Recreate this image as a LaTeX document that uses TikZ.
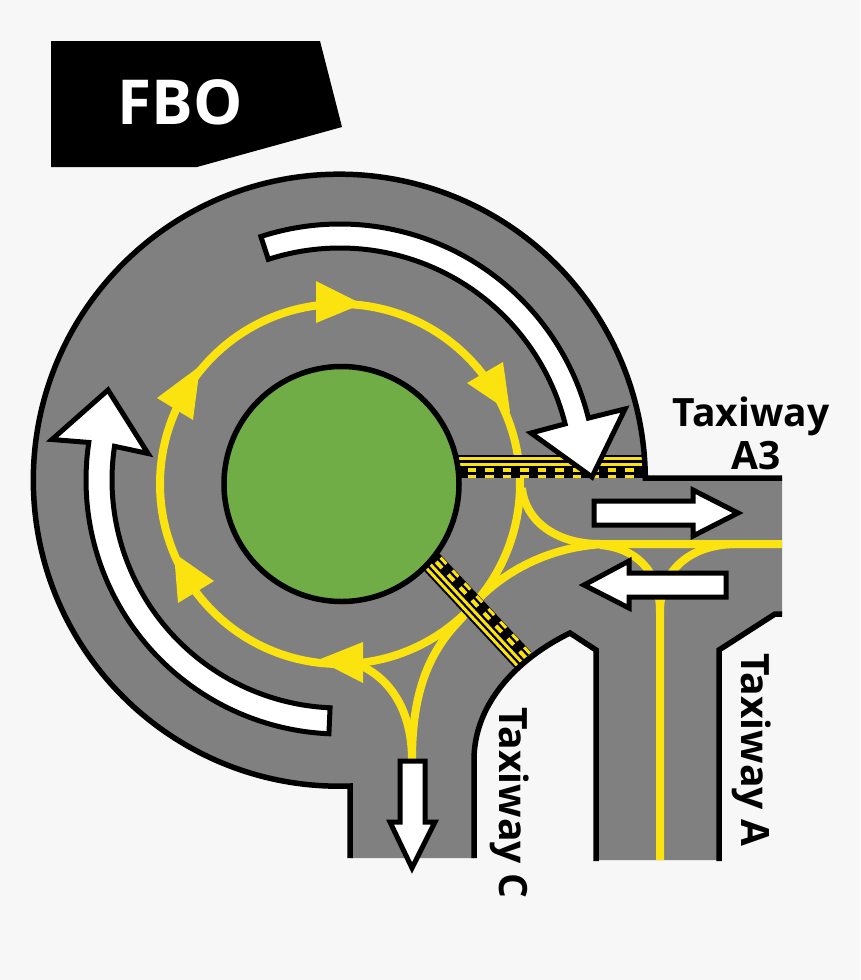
\documentclass[tikz,border=0pt]{standalone}
\usepackage{fontspec}
\setmainfont{Open Sans}
\usepackage{tikz}
\definecolor{sheet}{HTML}{F7F7F7}
\definecolor{pavement}{HTML}{808080}
\definecolor{grass}{HTML}{70AD47}
\definecolor{paint}{HTML}{FBE30F}
\tikzset{
	edgeline/.style={draw=black, line width=5.5pt, line join=miter},
	taxiline/.style={draw=paint, line width=8pt},
	painthead/.style={fill=paint},
	flowarrow/.style={draw=black, fill=white, line width=5pt, line join=miter, miter limit=10},
	twylabel/.style={font=\fontsize{39}{43}\selectfont\bfseries, align=center, inner sep=0pt},
}
% band across the pavement, local x runs along it
\newcommand{\holdbar}[1]{
	\fill[black] (0,-11.5) rectangle (#1,11.5);
	\draw[paint, line width=3pt] (0,-8) -- (#1,-8);
	\draw[paint, line width=3pt] (0,-2.5) -- (#1,-2.5);
	\draw[paint, line width=4pt, dash pattern=on 8.5pt off 9pt] (0,3.5) -- (#1,3.5);
	\draw[paint, line width=3pt, dash pattern=on 8.5pt off 9pt] (0,9.5) -- (#1,9.5);
}
\begin{document}
\begin{tikzpicture}[x=1pt, y=-1pt]
	\fill[sheet] (0,0) rectangle (860,980);
	\useasboundingbox (0,0) rectangle (860,980);

	% core parameters
	\def\cx{340}
	\def\cy{484}
	\def\rpad{306}
	\def\rring{180}
	\def\flowy{480}

	% pavement
	\fill[pavement] (350,858) -- (350,786) arc[start angle=88, end angle=359.6, radius=\rpad]
		-- (782,478) -- (782,614) -- (775,614) -- (719,650) -- (719,860) -- (596,860)
		-- (596,650) -- (570,633) .. controls (515,660) and (474,705) .. (474,760) -- (474,858) -- cycle;

	% yellow centre lines
	\coordinate (ringE) at (522,488);
	\coordinate (ringSE) at (462,618);
	\coordinate (ringS) at (345,660);
	\coordinate (exitC) at (412,760);
	\coordinate (meetA) at (660,612);
	\coordinate (endA3) at (782,544);
	\coordinate (endA) at (660,860);
	\draw[taxiline] (\cx,\cy) circle[radius=\rring];
	\draw[taxiline] (ringE) .. controls (525,520) and (555,544) .. (600,544) -- (endA3);
	\draw[taxiline] (ringSE) .. controls (490,580) and (540,547) .. (605,544);
	\draw[taxiline] (600,545) .. controls (635,548) and (660,570) .. (meetA) -- (endA);
	\draw[taxiline] (735,544) .. controls (690,545) and (660,570) .. (meetA);
	\draw[taxiline] (ringSE) .. controls (430,650) and (412,690) .. (exitC);
	\draw[taxiline] (ringS) .. controls (385,670) and (412,705) .. (exitC);

	% yellow arrow heads on the ring
	\fill[painthead] (316,281) -- (362,304) -- (316,323) -- cycle;
	\fill[painthead] (467,383) -- (503,362) -- (510,412) -- cycle;
	\fill[painthead] (157,398) -- (200,366) -- (193,420) -- cycle;
	\fill[painthead] (174,553) -- (214,581) -- (178,603) -- cycle;
	\fill[painthead] (318,660) -- (363,642) -- (363,683) -- cycle;

	% hold bars
	\begin{scope}[shift={(450,466.5)}]
		\holdbar{193}
	\end{scope}
	\begin{scope}[shift={(523,660)}, rotate=133]
		\holdbar{140}
	\end{scope}

	% middle island
	\node (hub) [circle, draw=black, fill=grass, line width=5.5pt, minimum size=235pt, inner sep=0pt] at (341.5,484) {};

	% pavement edges
	\draw[edgeline] (350,858) -- (350,786) arc[start angle=88, end angle=359.6, radius=\rpad] -- (782,478);
	\draw[edgeline] (782,614) -- (775,614) -- (719,650) -- (719,861);
	\draw[edgeline] (596,861) -- (596,650) -- (570,633) .. controls (515,660) and (474,705) .. (474,760) -- (474,858);

	% white flow arrows
	\draw[flowarrow] ([shift={(\cx,\flowy)}]252:256) arc[start angle=252, end angle=346, radius=256]
		-- (625,409) -- (592,477) -- (531,433) -- ([shift={(\cx,\flowy)}]346:232)
		arc[start angle=346, end angle=252, radius=232] -- cycle;
	\draw[flowarrow] ([shift={(\cx,\flowy)}]92.5:254) arc[start angle=92.5, end angle=188.5, radius=254]
		-- (52,439.5) -- (108,390) -- (148,453.5) -- ([shift={(\cx,\flowy)}]188.5:228)
		arc[start angle=188.5, end angle=92.5, radius=228] -- cycle;
	\draw[flowarrow] (594,501) -- (693,501) -- (693,490) -- (738,513) -- (693,536) -- (693,525) -- (594,525) -- cycle;
	\draw[flowarrow] (726,573) -- (629,573) -- (629,561) -- (584,585) -- (629,608) -- (629,597) -- (726,597) -- cycle;
	\draw[flowarrow] (400,761) -- (425,761) -- (425,822) -- (435,822) -- (412,868) -- (390,822) -- (400,822) -- cycle;

	% sign and labels
	\fill[black] (51,41) -- (320,41) -- (342,127) -- (197,167) -- (51,167) -- cycle;
	\node (fbo) [text=white, font=\fontsize{62}{70}\selectfont\bfseries, inner sep=0pt] at (180,102) {FBO};
	\node (twyA3) [twylabel] at (751,433) {Taxiway\\\hspace*{10pt}A3};
	\node (twyA) [twylabel, rotate=-90] at (752,750) {Taxiway A};
	\node (twyC) [twylabel, rotate=-90] at (510,803) {Taxiway C};
\end{tikzpicture}
\end{document}
